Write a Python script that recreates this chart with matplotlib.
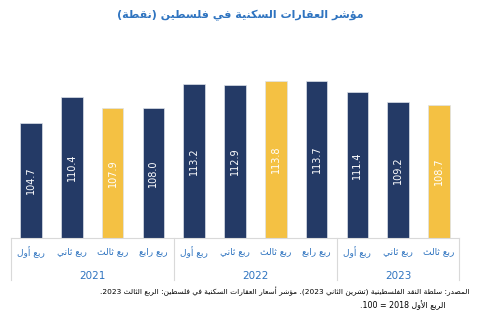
import re
import matplotlib
matplotlib.use('Agg')
import matplotlib.pyplot as plt

# data
quarters = ['ربع أول', 'ربع ثاني', 'ربع ثالث', 'ربع رابع',
            'ربع أول', 'ربع ثاني', 'ربع ثالث', 'ربع رابع',
            'ربع أول', 'ربع ثاني', 'ربع ثالث']
years = ['2021', '2022', '2023']
year_sizes = [4, 4, 3]
values = [104.7, 110.4, 107.9, 108.0, 113.2, 112.9, 113.8, 113.7, 111.4, 109.2, 108.7]
highlight = [2, 6, 10]

title = 'مؤشر العقارات السكنية في فلسطين (نقطة)'
source1 = 'المصدر: سلطة النقد الفلسطينية (تشرين الثاني 2023). مؤشر أسعار العقارات السكنية في فلسطين: الربع الثالث 2023.'
source2 = 'الربع الأول 2018 = 100.'

navy = '#243a66'
yellow = '#f4c143'
blue = '#2f74c0'

# --- minimal arabic shaping + rtl ordering (matplotlib has no CTL) ---
F = {
    'ء': (0xFE80, None, None, None),
    'آ': (0xFE81, 0xFE82, None, None), 'أ': (0xFE83, 0xFE84, None, None),
    'ؤ': (0xFE85, 0xFE86, None, None), 'إ': (0xFE87, 0xFE88, None, None),
    'ئ': (0xFE89, 0xFE8A, 0xFE8B, 0xFE8C), 'ا': (0xFE8D, 0xFE8E, None, None),
    'ب': (0xFE8F, 0xFE90, 0xFE91, 0xFE92), 'ة': (0xFE93, 0xFE94, None, None),
    'ت': (0xFE95, 0xFE96, 0xFE97, 0xFE98), 'ث': (0xFE99, 0xFE9A, 0xFE9B, 0xFE9C),
    'ج': (0xFE9D, 0xFE9E, 0xFE9F, 0xFEA0), 'ح': (0xFEA1, 0xFEA2, 0xFEA3, 0xFEA4),
    'خ': (0xFEA5, 0xFEA6, 0xFEA7, 0xFEA8), 'د': (0xFEA9, 0xFEAA, None, None),
    'ذ': (0xFEAB, 0xFEAC, None, None), 'ر': (0xFEAD, 0xFEAE, None, None),
    'ز': (0xFEAF, 0xFEB0, None, None), 'س': (0xFEB1, 0xFEB2, 0xFEB3, 0xFEB4),
    'ش': (0xFEB5, 0xFEB6, 0xFEB7, 0xFEB8), 'ص': (0xFEB9, 0xFEBA, 0xFEBB, 0xFEBC),
    'ض': (0xFEBD, 0xFEBE, 0xFEBF, 0xFEC0), 'ط': (0xFEC1, 0xFEC2, 0xFEC3, 0xFEC4),
    'ظ': (0xFEC5, 0xFEC6, 0xFEC7, 0xFEC8), 'ع': (0xFEC9, 0xFECA, 0xFECB, 0xFECC),
    'غ': (0xFECD, 0xFECE, 0xFECF, 0xFED0), 'ف': (0xFED1, 0xFED2, 0xFED3, 0xFED4),
    'ق': (0xFED5, 0xFED6, 0xFED7, 0xFED8), 'ك': (0xFED9, 0xFEDA, 0xFEDB, 0xFEDC),
    'ل': (0xFEDD, 0xFEDE, 0xFEDF, 0xFEE0), 'م': (0xFEE1, 0xFEE2, 0xFEE3, 0xFEE4),
    'ن': (0xFEE5, 0xFEE6, 0xFEE7, 0xFEE8), 'ه': (0xFEE9, 0xFEEA, 0xFEEB, 0xFEEC),
    'و': (0xFEED, 0xFEEE, None, None), 'ى': (0xFEEF, 0xFEF0, None, None),
    'ي': (0xFEF1, 0xFEF2, 0xFEF3, 0xFEF4),
}
LAM_ALEF = {'ا': (0xFEFB, 0xFEFC), 'أ': (0xFEF7, 0xFEF8),
            'إ': (0xFEF9, 0xFEFA), 'آ': (0xFEF5, 0xFEF6)}


def dual(c):
    return c in F and F[c][2] is not None


def joins_back(c):
    return c in F and F[c][1] is not None


def ar(s):
    out = []
    i = 0
    while i < len(s):
        c = s[i]
        prev = s[i - 1] if i > 0 else ''
        p = dual(prev)
        if c == 'ل' and i + 1 < len(s) and s[i + 1] in LAM_ALEF:
            out.append(chr(LAM_ALEF[s[i + 1]][1 if p else 0]))
            i += 2
            continue
        if c in F:
            nxt = s[i + 1] if i + 1 < len(s) else ''
            n = dual(c) and joins_back(nxt)
            if p and n:
                k = 3
            elif p and joins_back(c):
                k = 1
            elif n:
                k = 2
            else:
                k = 0
            out.append(chr(F[c][k]))
        else:
            out.append(c)
        i += 1
    toks = re.findall(r'\d+|.', ''.join(out), re.S)[::-1]
    vis = ''.join(toks)
    return vis.translate(str.maketrans('()', ')('))


plt.rcParams['font.family'] = ['DejaVu Sans']

fig = plt.figure(figsize=(4.8, 3.22), dpi=100)
ax = fig.add_axes([10.6 / 480, (322 - 238) / 322, 448.8 / 480, 198 / 322])

x = list(range(len(values)))
colors = [yellow if i in highlight else navy for i in x]
ax.bar(x, [v - 80 for v in values], bottom=80, width=0.53, color=colors,
       edgecolor='#dde2ea', linewidth=0.5)

for i, v in zip(x, values):
    ax.text(i, (80 + v) / 2, f'{v:.1f}', rotation=90, ha='center', va='center',
            color='white', fontsize=7)

ax.set_xlim(-0.5, len(values) - 0.5)
ax.set_ylim(80, 80 + 198 / 4.65)
ax.set_yticks([])
ax.set_xticks([])
for s in ['left', 'right', 'top']:
    ax.spines[s].set_visible(False)
ax.spines['bottom'].set_color('#d9d9d9')
ax.spines['bottom'].set_linewidth(0.8)

tr = ax.get_xaxis_transform()
for i, q in enumerate(quarters):
    ax.text(i, -0.07, ar(q), transform=tr, ha='center', va='center',
            color=blue, fontsize=6.5, clip_on=False)

edge = -0.5
for y, n in zip(years, year_sizes):
    ax.text(edge + n / 2, -0.192, y, transform=tr, ha='center', va='center',
            color=blue, fontsize=7.5, clip_on=False)
    edge += n
seps = [-0.5, 3.5, 7.5, 10.5]
for s in seps:
    ax.plot([s, s], [0, -0.212], transform=tr, color='#d9d9d9', lw=0.8, clip_on=False)

fig.text(0.5, 1 - 15 / 322, ar(title), ha='center', va='center', color=blue,
         fontsize=8, fontweight='bold')
fig.text(470 / 480, 1 - 291 / 322, ar(source1), ha='right', va='center',
         color='black', fontsize=5.3)
fig.text(446 / 480, 1 - 305 / 322, ar(source2), ha='right', va='center',
         color='black', fontsize=5.7)

fig.savefig('out.png', dpi=100)
